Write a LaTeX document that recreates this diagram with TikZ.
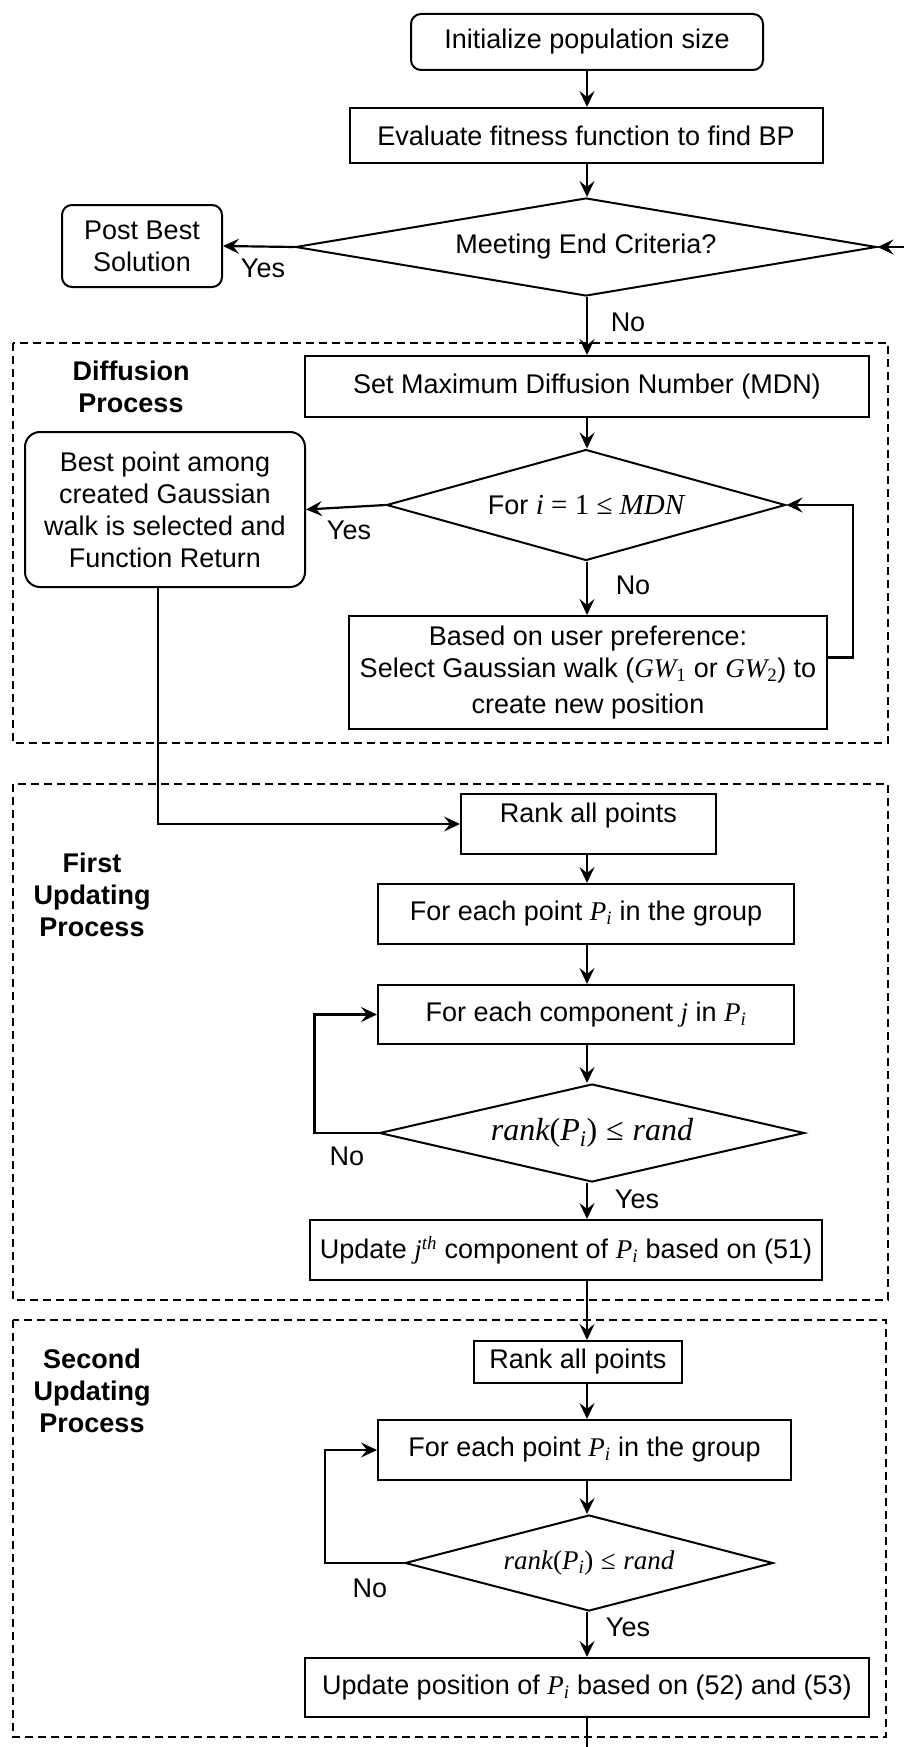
\documentclass[tikz,border=0pt]{standalone}
\usepackage{fontspec}
\setmainfont{Liberation Sans}
\newfontfamily\tms{Liberation Serif}
\usetikzlibrary{shapes.geometric,arrows.meta,calc}
\newcommand{\mv}[1]{{\tms\itshape #1}}
\newcommand{\mr}[1]{{\tms #1}}
\newcommand{\msub}[1]{\textsubscript{#1}}
\begin{document}
\begin{tikzpicture}[x=1pt,y=-1pt,
  font=\fontsize{27}{32}\selectfont,
  box/.style={draw, line width=2pt, inner sep=0pt, align=center},
  rbox/.style={box, rounded corners=10pt},
  dia/.style={draw, diamond, line width=2pt, inner sep=0pt, align=center},
  arr/.style={-{Stealth[length=16pt,width=15pt,inset=6pt]}, line width=2.2pt},
  lbl/.style={inner sep=0pt},
  grp/.style={draw, dash pattern=on 8pt off 5pt, line width=1.5pt},
  ttl/.style={font=\fontsize{27}{32}\selectfont\bfseries, align=center, inner sep=0pt}]
\useasboundingbox (0,0) rectangle (904,1747);
\coordinate (ax) at (587,0);

% top part
\node[rbox, minimum width=352pt, minimum height=56pt] (init) at (587,42) {Initialize population size};
\node[box, minimum width=473pt, minimum height=55pt] (eval) at (586,135.5) {Evaluate fitness function to find BP};
\node[dia, minimum width=581pt, minimum height=98pt, aspect=5.9] (d1) at (586,247) {Meeting End Criteria?};
\node[rbox, minimum width=160pt, minimum height=82pt] (post) at (142,246) {Post Best\\Solution};
\coordinate (rin) at (904,247);
\draw[arr] (init.south -| ax) -- (eval.north -| ax);
\draw[arr] (eval.south -| ax) -- (d1.north -| ax);
\draw[arr] (d1.west) -- (post.east);
\draw[arr] (rin) -- (d1.east);
\node[lbl] (y1) at (263,268) {Yes};
\node[lbl] (n1) at (628,322) {No};

% diffusion process
\draw[grp] (13,343) rectangle (888,743);
\node[ttl] (t1) at (131,387) {Diffusion\\Process};
\node[box, minimum width=564pt, minimum height=61pt] (mdn) at (587,386.5) {Set Maximum Diffusion Number (MDN)};
\node[dia, minimum width=399pt, minimum height=111pt, aspect=3.6] (d2) at (586,505) {For {\fontsize{29}{32}\selectfont\mr{\mv{i} = 1 ≤ \mv{MDN}}}};
\node[box, rounded corners=15pt, minimum width=280pt, minimum height=155pt] (best) at (165,509.5) {Best point among\\created Gaussian\\walk is selected and\\Function Return};
\node[box, minimum width=478pt, minimum height=113pt] (gw) at (588,672.5) {Based on user preference:\\Select Gaussian walk (\mv{GW}\mr{\msub{1}} or \mv{GW}\mr{\msub{2}}) to\\[4pt]create new position};
\draw[arr] (d1.south -| ax) -- (mdn.north -| ax);
\draw[arr] (mdn.south -| ax) -- (d2.north -| ax);
\draw[arr] (d2.west) -- (best.east);
\draw[arr] (d2.south -| ax) -- (gw.north -| ax);
\draw[arr] ([yshift=15pt]gw.east) -- ++(25,0) |- (d2.east);
\node[lbl] (y2) at (349,530) {Yes};
\node[lbl] (n2) at (633,585) {No};

% first updating process
\draw[grp] (13,784) rectangle (888,1300);
\node[ttl] (t2) at (92,895) {First\\Updating\\Process};
\node[box, minimum width=255pt, minimum height=60pt, text height=19pt, text depth=23pt] (rank1) at (588.5,824) {Rank all points};
\node[box, minimum width=416pt, minimum height=60pt] (pt1) at (586,914) {For each point \mv{P}\msub{\mv{i}} in the group};
\node[box, minimum width=416pt, minimum height=59pt] (comp) at (586,1014.5) {For each component \mv{j} in \mv{P}\msub{\mv{i}}};
\node[dia, minimum width=425pt, minimum height=98pt, aspect=4.4, font=\fontsize{32}{36}\selectfont] (d3) at (592,1133) {\mv{rank}\mr{(}\mv{P}\msub{\mv{i}}\mr{)} \mr{≤} \mv{rand}};
\node[box, minimum width=512pt, minimum height=60pt] (upd1) at (566,1250) {Update \mv{j}\textsuperscript{\mv{th}} component of \mv{P}\msub{\mv{i}} based on (51)};
\draw[arr, line width=1.5pt] ([xshift=-7pt]best.south) |- (rank1.west);
\draw[arr] (rank1.south -| ax) -- (pt1.north -| ax);
\draw[arr] (pt1.south -| ax) -- (comp.north -| ax);
\draw[arr] (comp.south -| ax) -- (d3.north -| ax);
\draw[arr] (d3.west) -- ++(-64,0) |- (comp.west);
\draw[arr] (d3.south -| ax) -- (upd1.north -| ax);
\node[lbl] (n3) at (347,1156) {No};
\node[lbl] (y3) at (637,1199) {Yes};

% second updating process
\draw[grp] (13,1320) rectangle (886,1737);
\node[ttl] (t3) at (92,1391) {Second\\Updating\\Process};
\node[box, minimum width=208pt, minimum height=42pt] (rank2) at (578,1362) {Rank all points};
\node[box, minimum width=413pt, minimum height=60pt] (pt2) at (584.5,1450) {For each point \mv{P}\msub{\mv{i}} in the group};
\node[dia, minimum width=368pt, minimum height=96pt, aspect=3.8, font=\fontsize{27}{30}\selectfont] (d4) at (589,1563) {\mv{rank}\mr{(}\mv{P}\msub{\mv{i}}\mr{)} \mr{≤} \mv{rand}};
\node[box, minimum width=564pt, minimum height=59pt] (upd2) at (587,1687.5) {Update position of \mv{P}\msub{\mv{i}} based on (52) and (53)};
\coordinate (bot) at (587,1747);
\draw[arr] (upd1.south -| ax) -- (rank2.north -| ax);
\draw[arr] (rank2.south -| ax) -- (pt2.north -| ax);
\draw[arr] (pt2.south -| ax) -- (d4.north -| ax);
\draw[arr] (d4.west) -- ++(-79,0) |- (pt2.west);
\draw[arr] (d4.south -| ax) -- (upd2.north -| ax);
\draw[line width=2.2pt] (upd2.south -| ax) -- (bot);
\node[lbl] (n4) at (370,1588) {No};
\node[lbl] (y4) at (628,1627) {Yes};
\end{tikzpicture}
\end{document}
